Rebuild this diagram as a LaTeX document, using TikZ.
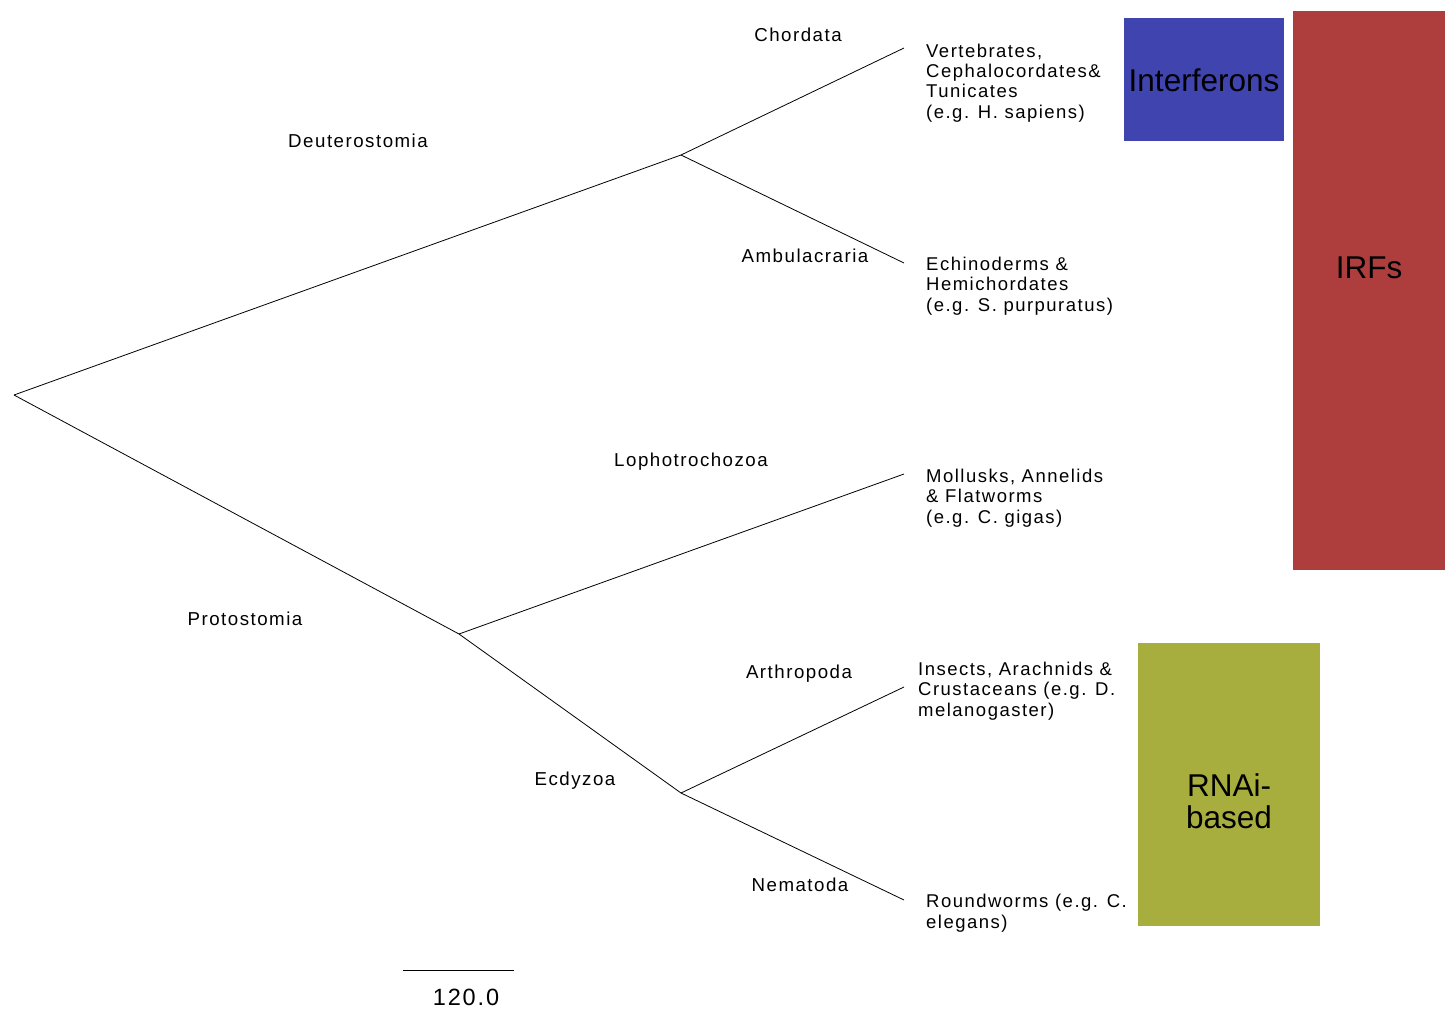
\documentclass[tikz,border=0pt]{standalone}
\usepackage{fontspec}
\setmainfont{Liberation Sans}
\newfontfamily\trackfont[LetterSpace=8]{Liberation Sans}
\definecolor{ifnblue}{HTML}{3F44AE}
\definecolor{irfred}{HTML}{AE3E3E}
\definecolor{rnaigreen}{HTML}{A7AE3E}
\begin{document}
\begin{tikzpicture}[x=1pt,y=-1pt,
  branch/.style={draw=black,line width=0.8pt},
  clade/.style={anchor=base,inner sep=0pt,font=\trackfont\fontsize{18.7}{20.3}\selectfont},
  tip/.style={anchor=base west,inner sep=0pt,align=left,font=\trackfont\fontsize{18.5}{20.3}\selectfont},
  box/.style={draw=none,inner sep=0pt,anchor=north west},
  boxtext/.style={inner sep=0pt,align=center,font=\fontsize{31.5}{32}\selectfont}]
\useasboundingbox (0,0) rectangle (1450,1012);
% tree nodes
\coordinate (root) at (14,395);
\coordinate (deut) at (681,155);
\coordinate (prot) at (459,634);
\coordinate (chord) at (904,48);
\coordinate (amb) at (904,263);
\coordinate (loph) at (904,474);
\coordinate (ecd) at (681,793);
\coordinate (arth) at (904,687);
\coordinate (nem) at (904,900);
\draw[branch] (root) -- (deut);
\draw[branch] (root) -- (prot);
\draw[branch] (deut) -- (chord);
\draw[branch] (deut) -- (amb);
\draw[branch] (prot) -- (loph);
\draw[branch] (prot) -- (ecd);
\draw[branch] (ecd) -- (arth);
\draw[branch] (ecd) -- (nem);
% clade labels
\node[clade] (lchord) at (798,41) {Chordata};
\node[clade] (ldeut) at (358,147) {Deuterostomia};
\node[clade] (lamb) at (805,262) {Ambulacraria};
\node[clade] (lloph) at (691,466) {Lophotrochozoa};
\node[clade] (lprot) at (245,625) {Protostomia};
\node[clade] (larth) at (799,678) {Arthropoda};
\node[clade] (lecd) at (575,785) {Ecdyzoa};
\node[clade] (lnem) at (800,891) {Nematoda};
% tip labels (base = last line)
\node[tip] (tchord) at (926,118) {Vertebrates,\\Cephalocordates\&\\Tunicates\\(e.g. H. sapiens)};
\node[tip] (tamb) at (926,311) {Echinoderms \&\\Hemichordates\\(e.g. S. purpuratus)};
\node[tip] (tloph) at (926,523) {Mollusks, Annelids\\\& Flatworms\\(e.g. C. gigas)};
\node[tip] (tarth) at (918,716) {Insects, Arachnids \&\\Crustaceans (e.g. D.\\melanogaster)};
\node[tip] (tnem) at (926,928) {Roundworms (e.g. C.\\elegans)};
% scale bar
\coordinate (sa) at (403,970);
\coordinate (sb) at (514,970);
\draw[line width=0.9pt] (sa) -- (sb);
\node[anchor=base,inner sep=0pt,font=\trackfont\fontsize{23.5}{26}\selectfont] (scale) at (466,1005) {120.0};
% coloured boxes
\node[box,fill=ifnblue,minimum width=160pt,minimum height=123pt] (ifn) at (1124,18) {};
\node[boxtext] (ifnt) at (1204,80) {Interferons};
\node[box,fill=irfred,minimum width=152pt,minimum height=559pt] (irf) at (1293,11) {};
\node[boxtext] (irft) at (1369,268) {IRFs};
\node[box,fill=rnaigreen,minimum width=182pt,minimum height=283pt] (rnai) at (1138,643) {};
\node[boxtext] (rnait) at (1229,801) {RNAi-\\based};
\end{tikzpicture}
\end{document}
